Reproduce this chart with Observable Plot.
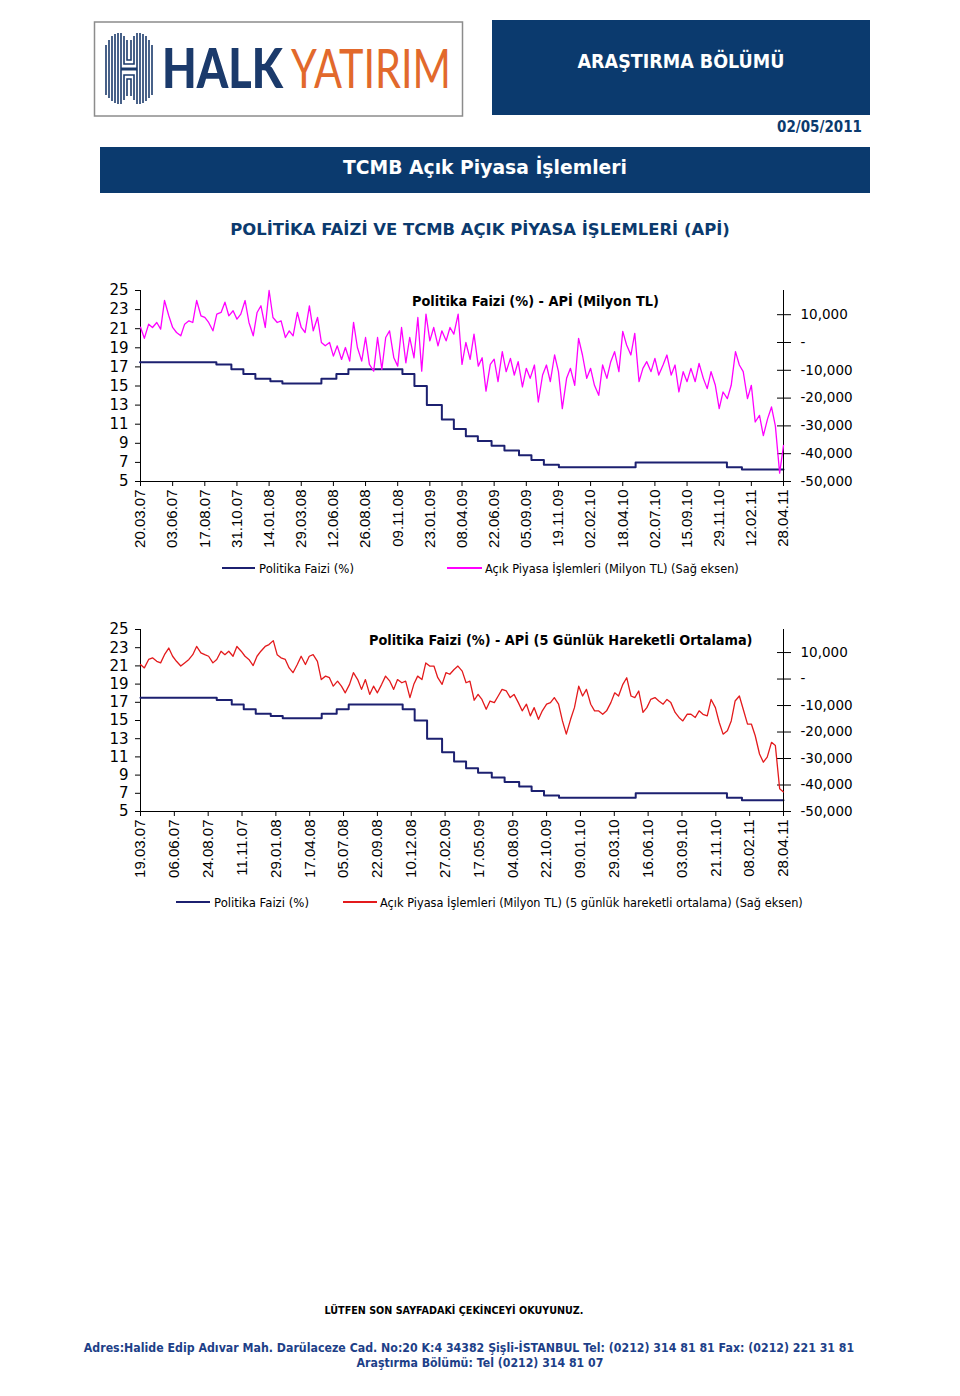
<!DOCTYPE html>
<html><head><meta charset="utf-8">
<script src="https://cdn.jsdelivr.net/npm/d3@7"></script>
<script src="https://cdn.jsdelivr.net/npm/@observablehq/plot@0.6"></script>
<style>
html,body{margin:0;padding:0;background:#fff;}
#page{position:relative;width:960px;height:1396px;overflow:hidden;background:#fff;}
</style></head><body><div id="page"></div>
<script>
// ---------------- DATA ----------------
// Policy rate (Politika Faizi, %) change dates and levels
const policyDates = ["19.03.07","13.09.07","18.10.07","15.11.07","13.12.07","17.01.08","14.02.08","15.05.08","19.06.08","17.07.08","20.11.08","18.12.08","16.01.09","20.02.09","20.03.09","17.04.09","15.05.09","16.06.09","16.07.09","19.08.09","17.09.09","16.10.09","20.11.09","18.05.10","17.12.10","21.01.11","28.04.11"];
const policyRates = [17.5,17.25,16.75,16.25,15.75,15.5,15.25,15.75,16.25,16.75,16.25,15,13,11.5,10.5,9.75,9.25,8.75,8.25,7.75,7.25,6.75,6.5,7,6.5,6.25,6.25];

// Açık Piyasa İşlemleri (thousand Milyon TL), evenly spread 20.03.07 .. 28.04.11
const apiDaily = [5.5,1.5,6.6,5.4,7.2,4.8,15.1,9.6,5.4,3.6,2.4,6.6,7.8,7.2,15.1,9.6,9.0,7.2,4.2,10.2,
10.8,14.5,9.6,11.4,8.4,10.2,15.1,7.2,2.4,10.8,13.2,5.4,18.7,9.0,7.2,7.8,1.8,4.2,2.4,10.8,
5.4,3.6,13.2,4.2,9.0,0,-1.2,0,-4.9,-1.2,-6.1,-1.8,-6.7,7.2,-1.8,-6.7,1.8,-7.9,-10.3,1.8,
-9.7,1.8,4.2,-5.5,-8.5,5.4,-7.3,1.8,-5.5,9.0,-10.3,10.2,0.6,5.4,-1.2,4.2,0.6,5.4,3.0,10.2,
-7.9,0,-6.1,3.0,-8.5,-5.5,-17.5,-7.9,-6.0,-14.1,-3.3,-10.5,-5.7,-11.7,-6.9,-16.0,-9.3,-12.9,-8.1,-21.4,
-11.7,-8.1,-14.1,-4.5,-10.5,-23.8,-12.9,-9.3,-15.4,1.5,-4.5,-12.9,-9.3,-15.4,-19.0,-8.1,-12.9,-6.9,-3.3,-10.5,
4.0,-0.9,-4.5,3.3,-14.1,-9.3,-6.9,-10.5,-5.7,-11.7,-8.1,-4.5,-11.7,-8.1,-17.8,-10.5,-14.1,-9.3,-14.1,-7.5,
-12.9,-16.6,-10.5,-15.4,-23.8,-17.8,-20.2,-15.4,-3.3,-8.1,-10.5,-20.2,-15.4,-28.6,-26.2,-33.5,-27.4,-23.2,-30.0,-47.0,
-37.0];

// 5 günlük hareketli ortalama (thousand Milyon TL), evenly spread 19.03.07 .. 28.04.11
const apiMA5 = [5.5,4.2,7.4,8.0,6.7,6.1,9.2,11.7,8.6,6.7,
4.9,6.1,7.4,9.2,12.3,9.9,9.2,8.6,6.1,7.4,
10.5,9.2,10.5,8.6,12.3,10.5,8.6,7.4,5.1,8.6,
10.5,12.3,13.0,14.5,9.2,8.0,7.4,4.2,2.4,5.5,
8.6,5.5,8.6,9.2,6.7,-0.2,1.1,0.5,-2.7,-0.8,
-2.7,-5.2,-2.0,2.4,-0.2,-3.9,-0.2,-5.8,-2.7,-5.2,
-2.0,1.1,-0.8,-3.9,-0.2,-1.4,-0.8,-7.0,-2.0,1.1,
-0.2,6.1,4.9,4.9,0.5,-2.0,2.4,1.8,3.6,4.9,
3.0,-1.4,-0.8,-8.0,-5.8,-7.7,-11.4,-8.3,-8.9,-6.4,
-3.9,-4.5,-7.0,-5.8,-8.9,-12.0,-9.5,-13.9,-10.8,-15.2,
-12.0,-9.5,-8.9,-7.0,-9.5,-15.8,-20.8,-15.2,-10.8,-2.7,
-6.4,-3.9,-9.5,-12.0,-12.0,-13.3,-12.0,-8.9,-5.2,-6.4,
-2.0,0.5,-6.4,-7.0,-4.5,-12.6,-10.8,-7.7,-7.0,-8.3,
-9.5,-7.7,-8.9,-12.6,-14.5,-15.8,-13.3,-13.3,-14.5,-12.0,
-13.3,-13.9,-7.7,-10.8,-16.4,-20.8,-19.5,-15.8,-8.3,-6.4,
-11.4,-17.0,-17.0,-21.4,-28.3,-31.4,-29.5,-23.9,-25.1,-41.4,
-42.6];

const topTicks = ["20.03.07","03.06.07","17.08.07","31.10.07","14.01.08","29.03.08","12.06.08","26.08.08","09.11.08","23.01.09","08.04.09","22.06.09","05.09.09","19.11.09","02.02.10","18.04.10","02.07.10","15.09.10","29.11.10","12.02.11","28.04.11"];
const bottomTicks = ["19.03.07","06.06.07","24.08.07","11.11.07","29.01.08","17.04.08","05.07.08","22.09.08","10.12.08","27.02.09","17.05.09","04.08.09","22.10.09","09.01.10","29.03.10","16.06.10","03.09.10","21.11.10","08.02.11","28.04.11"];
const leftTicks = [25,23,21,19,17,15,13,11,9,7,5];
const rightTicks = [10000,0,-10000,-20000,-30000,-40000,-50000];

// ---------------- HELPERS ----------------
const parse = d3.timeParse("%d.%m.%y");
const fmtDate = d3.timeFormat("%d.%m.%y");
const rightFmt = d => d === 0 ? "-" : (d < 0 ? "-" : "") + d3.format(",")(Math.abs(d));
const policy = policyDates.map((d, i) => ({date: parse(d), rate: policyRates[i]}));
function spread(values, start, end) {
  const n = values.length, span = d3.timeDay.count(start, end);
  return values.map((v, i) => ({date: d3.timeDay.offset(start, Math.round(i * span / (n - 1))), value: v * 1000}));
}

const NAVY_LINE = "#1c2070";
const page = document.getElementById("page");

function makeChart({top, height, mt, mb, start, end, ticks, series, color}) {
  const common = {width: 900, height, marginLeft: 140, marginRight: 117, marginTop: mt, marginBottom: mb};
  const left = Plot.plot({
    ...common,
    style: {background: "transparent", color: "#000", fontFamily: "'DejaVu Sans'", fontSize: "15px", overflow: "visible"},
    x: {type: "time", domain: [start, end]},
    y: {domain: [5, 25]},
    marks: [
      Plot.axisX({ticks: ticks.map(parse), tickFormat: fmtDate, tickRotate: -90, tickSize: 5, tickPadding: 3, label: null, fontFamily: "'Liberation Sans', Arial", fontSize: 15}),
      Plot.axisY({ticks: leftTicks, tickSize: 5, tickPadding: 7, label: null, fontFamily: "'DejaVu Sans'", fontSize: 15}),
      Plot.ruleX([start], {stroke: "#000"}),
      Plot.ruleY([5], {stroke: "#000"}),
      Plot.line(policy, {x: "date", y: "rate", curve: "step-after", stroke: NAVY_LINE, strokeWidth: 2})
    ]
  });
  const right = Plot.plot({
    ...common,
    style: {background: "transparent", color: "#000", fontFamily: "'DejaVu Sans'", fontSize: "13px", overflow: "visible"},
    x: {type: "time", domain: [start, end], axis: null},
    y: {domain: [-50000, 18700]},
    marks: [
      Plot.ruleX([end], {stroke: "#000"}),
      Plot.axisY({anchor: "right", ticks: rightTicks, tickSize: 14, dx: -7, tickPadding: 10, tickFormat: rightFmt, label: null, fontFamily: "'DejaVu Sans'", fontSize: 13.5}),
      Plot.line(series, {x: "date", y: "value", stroke: color, strokeWidth: 1.3})
    ]
  });
  for (const el of [left, right]) {
    el.style.position = "absolute";
    el.style.left = "0px";
    el.style.top = top + "px";
    page.appendChild(el);
  }
}

// ---------------- STATIC PAGE (header, titles, legends, footer) ----------------
const NAVY = "#0b3a6e";
const ctx = document.createElement("canvas").getContext("2d");
// text fitted to a target width by its font size, with a vertical scale keeping the glyph height
function t(x, y, str, {size = 13, weight = "normal", fill = "#000", len = null, anchor = "start", family = "'DejaVu Sans'"} = {}) {
  let fs = size, sy = 1;
  if (len) {
    ctx.font = `${weight} ${size}px ${family}`;
    const w = ctx.measureText(str).width || len;
    fs = size * len / w;
    sy = size / fs;
  }
  return `<text transform="translate(${x},${y}) scale(1,${sy.toFixed(4)})" font-family="${family}" font-size="${fs.toFixed(3)}" font-weight="${weight}" fill="${fill}" text-anchor="${anchor}">${str}</text>`;
}
let icon = "";
const stripes = [[106,45,95],[109,40,98],[112,36,101],[115,34,103],[118,33,104],[121,33,104],[137,33,104],[140,33,104],[143,34,103],[146,36,101],[149,40,98],[152,45,95]];
for (const [x,y1,y2] of stripes) icon += `<line x1="${x}" x2="${x}" y1="${y1}" y2="${y2}" stroke="#1b3a6b" stroke-width="1.6"/>`;
icon += `<path d="M124,36 V64 H134 V36 M127,40 V60 H131 V40 M124,100 V75 H134 V100 M127,96 V79 H131 V96" fill="none" stroke="#1b3a6b" stroke-width="1.6"/>`;
icon += `<line x1="121" x2="137" y1="69" y2="69" stroke="#1b3a6b" stroke-width="3"/>`;

const staticSvg = `
<svg width="960" height="1396" style="position:absolute;left:0;top:0" xmlns="http://www.w3.org/2000/svg">
  <rect x="94.5" y="22" width="368" height="94" fill="#fff" stroke="#8c8c8c" stroke-width="1.5"/>
  ${icon}
  ${t(162, 88, "HALK", {size: 55, weight: 900, fill: "#1b3a6b", len: 121, family: "Lato"})}
  ${t(291, 88, "YATIRIM", {size: 55, weight: 400, fill: "#e2692c", len: 160, family: "Lato"})}
  <rect x="492" y="20" width="378" height="95" fill="${NAVY}"/>
  ${t(681, 68, "ARAŞTIRMA BÖLÜMÜ", {size: 19, weight: "bold", fill: "#fff", len: 207, anchor: "middle"})}
  ${t(862, 132, "02/05/2011", {size: 16, weight: "bold", fill: NAVY, len: 85, anchor: "end"})}
  <rect x="100" y="147" width="770" height="46" fill="${NAVY}"/>
  ${t(485, 174, "TCMB Açık Piyasa İşlemleri", {size: 20, weight: "bold", fill: "#fff", len: 284, anchor: "middle"})}
  ${t(480, 235, "POLİTİKA FAİZİ VE TCMB AÇIK PİYASA İŞLEMLERİ (APİ)", {size: 16, weight: "bold", fill: NAVY, len: 500, anchor: "middle"})}
  ${t(412, 306, "Politika Faizi (%) - APİ (Milyon TL)", {size: 14, weight: "bold", len: 247})}
  ${t(369, 645, "Politika Faizi (%) - APİ (5 Günlük Hareketli Ortalama)", {size: 14, weight: "bold", len: 384})}
  <line x1="222" x2="255" y1="568" y2="568" stroke="${NAVY_LINE}" stroke-width="2"/>
  ${t(259, 573, "Politika Faizi (%)", {size: 13, len: 95})}
  <line x1="447" x2="482" y1="568" y2="568" stroke="#ff00ff" stroke-width="2"/>
  ${t(485, 573, "Açık Piyasa İşlemleri (Milyon TL) (Sağ eksen)", {size: 13, len: 254})}
  <line x1="176" x2="210" y1="902" y2="902" stroke="${NAVY_LINE}" stroke-width="2"/>
  ${t(214, 907, "Politika Faizi (%)", {size: 13, len: 95})}
  <line x1="343" x2="377" y1="902" y2="902" stroke="#e31a1c" stroke-width="2"/>
  ${t(380, 907, "Açık Piyasa İşlemleri (Milyon TL) (5 günlük hareketli ortalama) (Sağ eksen)", {size: 13, len: 423})}
  ${t(454, 1314, "LÜTFEN SON SAYFADAKİ ÇEKİNCEYİ OKUYUNUZ.", {size: 11, weight: "bold", len: 259, anchor: "middle"})}
  ${t(469, 1352, "Adres:Halide Edip Adıvar Mah. Darülaceze Cad. No:20 K:4 34382 Şişli-İSTANBUL Tel: (0212) 314 81 81 Fax: (0212) 221 31 81", {size: 13, weight: "bold", fill: "#1d3f88", len: 771, anchor: "middle"})}
  ${t(480, 1367, "Araştırma Bölümü: Tel (0212) 314 81 07", {size: 13, weight: "bold", fill: "#1d3f88", len: 247, anchor: "middle"})}
</svg>`;
page.insertAdjacentHTML("beforeend", staticSvg);

// ---------------- CHARTS ----------------
const topStart = parse("20.03.07"), topEnd = parse("28.04.11");
const botStart = parse("19.03.07"), botEnd = parse("28.04.11");
makeChart({top: 280, height: 280, mt: 10, mb: 79, start: topStart, end: topEnd, ticks: topTicks, series: spread(apiDaily, topStart, topEnd), color: "#ff00ff"});
makeChart({top: 620, height: 260, mt: 9, mb: 69, start: botStart, end: botEnd, ticks: bottomTicks, series: spread(apiMA5, botStart, botEnd), color: "#e31a1c"});
</script>
</body></html>
